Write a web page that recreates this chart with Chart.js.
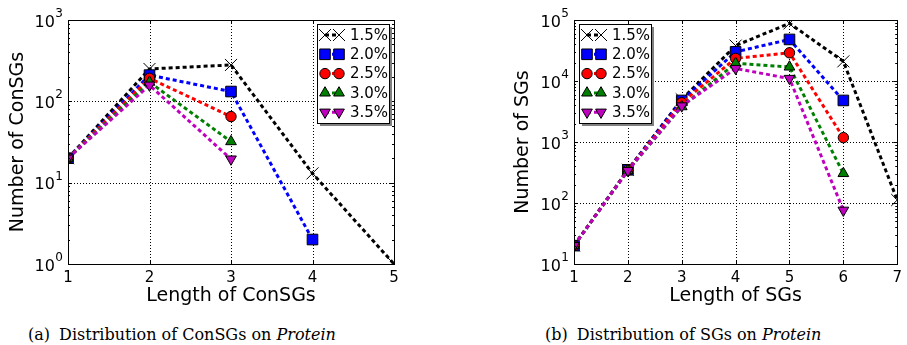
<!DOCTYPE html>
<html lang="en">
<head>
<meta charset="UTF-8">
<title>ConSGs / SGs on Protein</title>
<script src="https://cdn.jsdelivr.net/npm/chart.js"></script>
<style>
  body { margin: 0; background: #fff; width: 907px; height: 345px; position: relative; overflow: hidden; }
  .wrap { position: absolute; top: 0; height: 310px; }
  #wrapA { left: 0; width: 420px; }
  #wrapB { left: 500px; width: 407px; }
  .caption { position: absolute; top: 327px; line-height: 16px; font-family: "DejaVu Serif", "Liberation Serif", serif; font-size: 16px; color: #000; white-space: nowrap; }
  .caption .tag { margin-right: 4px; }
  #capA { left: 28px; }
  #capB { left: 545px; }
</style>
</head>
<body>
<div class="wrap" id="wrapA"><canvas id="chartA"></canvas></div>
<div class="wrap" id="wrapB"><canvas id="chartB"></canvas></div>
<div class="caption" id="capA"><span class="tag">(a)</span> Distribution of ConSGs on <i>Protein</i></div>
<div class="caption" id="capB"><span class="tag">(b)</span> Distribution of SGs on <i>Protein</i></div>

<script>
// series labels (support thresholds)
const seriesLabels = ['1.5%', '2.0%', '2.5%', '3.0%', '3.5%'];

// (a) ConSGs, x = length 1..5
const lengthsA = [1, 2, 3, 4, 5];
const consgs15 = [20, 250, 280, 13, 1];
const consgs20 = [20, 210, 132, 2, null];
const consgs25 = [20, 192, 65, null, null];
const consgs30 = [20, 172, 32, null, null];
const consgs35 = [20, 158, 19.5, null, null];
const yTicksA = [1, 10, 100, 1000];

// (b) SGs, x = length 1..7
const lengthsB = [1, 2, 3, 4, 5, 6, 7];
const sgs15 = [20, 350, 5000, 38000, 88000, 21000, 112];
const sgs20 = [20, 350, 4800, 30000, 48000, 4800, null];
const sgs25 = [20, 345, 4400, 23500, 29000, 1180, null];
const sgs30 = [20, 340, 3800, 19500, 17000, 305, null];
const sgs35 = [20, 340, 3900, 16000, 11000, 76, null];
const yTicksB = [10, 100, 1000, 10000, 100000];

const styles = [
  { color: '#000000', pointStyle: 'crossRot', radius: 8.5 },
  { color: '#0000ff', pointStyle: 'rect', radius: 7.5 },
  { color: '#ff0000', pointStyle: 'circle', radius: 5.2 },
  { color: '#008000', pointStyle: 'triangle', radius: 6.2 },
  { color: '#bf00bf', pointStyle: 'triangle', radius: 6.2, rotation: 180 }
];

function makeDatasets(lengths, seriesList) {
  return seriesList.map((vals, i) => {
    const s = styles[i];
    return {
      label: seriesLabels[i],
      data: lengths.map((x, j) => ({ x: x, y: vals[j] })),
      borderColor: s.color,
      borderWidth: 3,
      borderDash: [4, 3],
      borderCapStyle: 'butt',
      fill: false,
      tension: 0,
      spanGaps: false,
      pointStyle: s.pointStyle,
      pointRadius: s.radius,
      pointRotation: s.rotation || 0,
      pointBackgroundColor: s.pointStyle === 'crossRot' ? '#000' : s.color,
      pointBorderColor: '#000',
      pointBorderWidth: 1,
      order: 5 - i
    };
  });
}

// marker used by the legend box
function drawMarker(ctx, s, x, y) {
  ctx.save();
  ctx.translate(x, y);
  if (s.rotation) ctx.rotate(Math.PI * s.rotation / 180);
  ctx.beginPath();
  const r = s.radius;
  if (s.pointStyle === 'crossRot') {
    const d = r * Math.SQRT1_2;
    ctx.moveTo(-d, -d); ctx.lineTo(d, d);
    ctx.moveTo(-d, d); ctx.lineTo(d, -d);
    ctx.strokeStyle = '#000'; ctx.lineWidth = 1; ctx.stroke();
  } else {
    if (s.pointStyle === 'rect') {
      const d = r * Math.SQRT1_2;
      ctx.rect(-d, -d, 2 * d, 2 * d);
    } else if (s.pointStyle === 'circle') {
      ctx.arc(0, 0, r, 0, Math.PI * 2);
    } else {
      ctx.moveTo(0, -r);
      ctx.lineTo(r * Math.sin(Math.PI * 2 / 3), r * 0.5);
      ctx.lineTo(-r * Math.sin(Math.PI * 2 / 3), r * 0.5);
      ctx.closePath();
    }
    ctx.fillStyle = s.color; ctx.fill();
    ctx.strokeStyle = '#000'; ctx.lineWidth = 1; ctx.stroke();
  }
  ctx.restore();
}

// dotted grid at the major ticks, under the lines
const gridPlugin = {
  id: 'dotgrid',
  beforeDatasetsDraw(chart) {
    const ctx = chart.ctx;
    const a = chart.chartArea;
    const xs = chart.scales.x, ys = chart.scales.y;
    ctx.save();
    ctx.strokeStyle = '#000';
    ctx.lineWidth = 1;
    ctx.setLineDash([1, 2]);
    ctx.beginPath();
    xs.ticks.forEach(t => {
      const px = Math.round(xs.getPixelForValue(t.value)) + 0.5;
      ctx.moveTo(px, a.top); ctx.lineTo(px, a.bottom);
    });
    ys.ticks.forEach(t => {
      const py = Math.round(ys.getPixelForValue(t.value)) + 0.5;
      ctx.moveTo(a.left, py); ctx.lineTo(a.right, py);
    });
    ctx.stroke();
    ctx.restore();
  }
};

// frame, inward ticks (major + log minor), y labels 10^n and legend box
const framePlugin = {
  id: 'frame',
  afterDatasetsDraw(chart, args, opts) {
    const ctx = chart.ctx;
    const a = chart.chartArea;
    const xs = chart.scales.x, ys = chart.scales.y;
    ctx.save();
    ctx.strokeStyle = '#000';
    ctx.lineWidth = 1;
    ctx.setLineDash([]);
    ctx.strokeRect(Math.round(a.left) + 0.5, Math.round(a.top) + 0.5, Math.round(a.right - a.left), Math.round(a.bottom - a.top));
    ctx.beginPath();
    xs.ticks.forEach(t => {
      const px = Math.round(xs.getPixelForValue(t.value)) + 0.5;
      ctx.moveTo(px, a.bottom); ctx.lineTo(px, a.bottom - 4);
      ctx.moveTo(px, a.top); ctx.lineTo(px, a.top + 4);
    });
    const decades = ys.ticks.map(t => t.value);
    decades.forEach((d, k) => {
      const py = Math.round(ys.getPixelForValue(d)) + 0.5;
      ctx.moveTo(a.left, py); ctx.lineTo(a.left + 4, py);
      ctx.moveTo(a.right, py); ctx.lineTo(a.right - 4, py);
      if (k < decades.length - 1) {
        for (let m = 2; m <= 9; m++) {
          const my = Math.round(ys.getPixelForValue(d * m)) + 0.5;
          ctx.moveTo(a.left, my); ctx.lineTo(a.left + 2, my);
          ctx.moveTo(a.right, my); ctx.lineTo(a.right - 2, my);
        }
      }
    });
    ctx.stroke();

    // y tick labels as 10 with a raised exponent
    ctx.fillStyle = '#000';
    ctx.textBaseline = 'middle';
    ctx.textAlign = 'right';
    decades.forEach(d => {
      const py = ys.getPixelForValue(d);
      const exp = String(Math.round(Math.log10(d)));
      ctx.font = '12px "DejaVu Sans"';
      const ew = ctx.measureText(exp).width;
      const xr = a.left - 5;
      ctx.fillText(exp, xr, py - 6);
      ctx.font = '16px "DejaVu Sans"';
      ctx.fillText('10', xr - ew - 0.5, py + 2.5);
    });
    ctx.textAlign = 'left';

    // legend
    const lx = opts.x, ly = opts.y, lw = 72, lh = 99;
    ctx.fillStyle = '#808080';
    ctx.fillRect(lx + 3, ly + 3, lw, lh);
    ctx.fillStyle = '#fff';
    ctx.fillRect(lx, ly, lw, lh);
    ctx.strokeRect(lx + 0.5, ly + 0.5, lw, lh);
    ctx.font = '15px "DejaVu Sans"';
    ctx.textBaseline = 'middle';
    seriesLabels.forEach((lab, i) => {
      const cy = ly + 11 + i * 19.3;
      const s = styles[i];
      ctx.save();
      ctx.beginPath();
      ctx.setLineDash([4, 3]);
      ctx.strokeStyle = s.color;
      ctx.lineWidth = 3;
      ctx.moveTo(lx + 8, cy); ctx.lineTo(lx + 22, cy);
      ctx.stroke();
      ctx.restore();
      drawMarker(ctx, s, lx + 8, cy);
      drawMarker(ctx, s, lx + 22, cy);
      ctx.fillStyle = '#000';
      ctx.fillText(lab, lx + 33, cy + 1);
    });
    ctx.restore();
  }
};

function makeChart(id, lengths, seriesList, yTicks, opt) {
  return new Chart(document.getElementById(id), {
    type: 'line',
    data: { datasets: makeDatasets(lengths, seriesList) },
    plugins: [gridPlugin, framePlugin],
    options: {
      responsive: true,
      maintainAspectRatio: false,
      animation: false,
      layout: { padding: { top: 20, right: opt.padRight, left: 0, bottom: 0 } },
      plugins: {
        legend: { display: false },
        tooltip: { enabled: false },
        frame: { x: opt.legendX, y: 24 }
      },
      scales: {
        x: {
          type: 'linear',
          min: lengths[0],
          max: lengths[lengths.length - 1],
          afterBuildTicks: s => { s.ticks = lengths.map(v => ({ value: v })); },
          afterFit: s => { s.height = 46; },
          ticks: { color: '#000', padding: 5, font: { family: 'DejaVu Sans', size: 15 }, maxRotation: 0 },
          grid: { display: false, drawTicks: false },
          border: { display: false },
          title: { display: true, text: opt.xTitle, color: '#000', font: { family: 'DejaVu Sans', size: 19 }, padding: { top: 0, bottom: 3 } }
        },
        y: {
          type: 'logarithmic',
          min: yTicks[0],
          max: yTicks[yTicks.length - 1],
          afterBuildTicks: s => { s.ticks = yTicks.map(v => ({ value: v })); },
          afterFit: s => { s.width = opt.yWidth; },
          ticks: { display: false },
          grid: { display: false, drawTicks: false },
          border: { display: false },
          title: { display: true, text: opt.yTitle, color: '#000', font: { family: 'DejaVu Sans', size: 19 }, padding: { top: opt.yTitlePad, bottom: 0 } }
        }
      }
    }
  });
}

makeChart('chartA', lengthsA, [consgs15, consgs20, consgs25, consgs30, consgs35], yTicksA,
  { padRight: 26, yWidth: 68, legendX: 317, xTitle: 'Length of ConSGs', yTitle: 'Number of ConSGs', yTitlePad: 7 });
makeChart('chartB', lengthsB, [sgs15, sgs20, sgs25, sgs30, sgs35], yTicksB,
  { padRight: 7, yWidth: 74, legendX: 79, xTitle: 'Length of SGs', yTitle: 'Number of SGs', yTitlePad: 12 });
</script>
</body>
</html>
